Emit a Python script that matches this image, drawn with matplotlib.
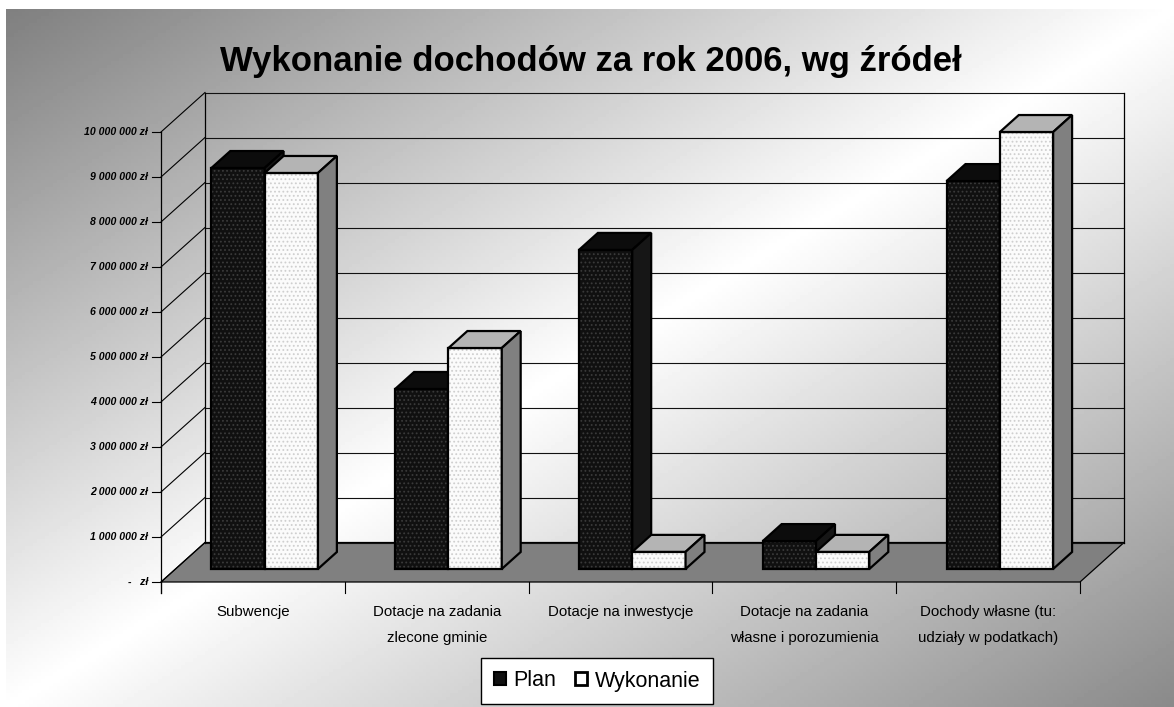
import matplotlib.pyplot as plt
import numpy as np
from matplotlib.patches import Polygon, Patch

plt.rcParams['font.family'] = ['Liberation Sans', 'DejaVu Sans']
plt.rcParams['hatch.linewidth'] = 0.8

# dane (mln zł)
kategorie = ['Subwencje', 'Dotacje na zadania\nzlecone gminie', 'Dotacje na inwestycje',
             'Dotacje na zadania\nwłasne i porozumienia', 'Dochody własne (tu:\nudziały w podatkach)']
plan = [8.91, 4.00, 7.09, 0.62, 8.62]
wykonanie = [8.80, 4.91, 0.38, 0.38, 9.71]
y_ticks = [0, 1, 2, 3, 4, 5, 6, 7, 8, 9, 10]
y_labels = ['-   zł'] + [f'{v} 000 000 zł' for v in y_ticks[1:]]

W, H = 1174, 707
fig = plt.figure(figsize=(W / 100, H / 100), dpi=100)

# tło z gradientem
bg = fig.add_axes([6 / W, 0, 1 - 6 / W, 1 - 9 / H])
xx, yy = np.meshgrid(np.linspace(0, 1, 300), np.linspace(0, 1, 200))
t = xx + yy - 1
g = 1 - 0.5 * np.abs(t)
g = np.where(t > 0, 1 - 0.46 * t, g)
bg.imshow(g, cmap='gray', vmin=0, vmax=1, aspect='auto', extent=[0, 1, 1, 0])
bg.axis('off')

# główny układ (przednia oś)
x0, x1, yb, yt = 161, 1080, 582, 132
ax = fig.add_axes([x0 / W, (H - yb) / H, (x1 - x0) / W, (yb - yt) / H])
ax.set_xlim(0, 5)
ax.set_ylim(0, 10)
ax.axis('off')

DX = 44 / ((x1 - x0) / 5)
DY = 39.5 / 45
n = len(kategorie)

# ściana tylna i boczna
for v, lab in zip(y_ticks, y_labels):
    ax.plot([0, DX], [v, v + DY], color='black', lw=0.8, clip_on=False)
    ax.plot([DX, n + DX], [v + DY, v + DY], color='#111111', lw=0.8, clip_on=False)
    ax.plot([-0.05, 0], [v, v], color='black', lw=0.8, clip_on=False)
    ax.text(-0.07, v, lab, ha='right', va='center', fontsize=7.6,
            fontweight='bold', fontstyle='italic')
ax.plot([DX, DX], [DY, 10 + DY], color='black', lw=0.9, clip_on=False)
ax.plot([n + DX, n + DX], [DY, 10 + DY], color='black', lw=0.9, clip_on=False)
ax.plot([0, 0], [-0.25, 10], color='black', lw=0.9, clip_on=False)

# podłoga
ax.add_patch(Polygon([(0, 0), (DX, DY), (n + DX, DY), (n, 0)], closed=True,
                     facecolor='#808080', edgecolor='black', lw=0.9, clip_on=False))
for i in range(n + 1):
    ax.plot([i, i], [0, -0.25], color='black', lw=0.8, clip_on=False)

# słupki 3D
d0, d1 = 0.33, 0.76
bw = 0.29
left = 0.195
# (przód, góra, bok, kolor kropek)
styles = [('#101010', '#0c0c0c', '#161616', '#3a3a3a'),
          ('#fbfbfb', '#b4b4b4', '#808080', '#cfcfcf')]


def bar3d(xl, v, front, top, side, dots):
    ox, oy = d0 * DX, d0 * DY
    ddx, ddy = (d1 - d0) * DX, (d1 - d0) * DY
    ax.bar(xl + ox, v, bw, bottom=oy, align='edge', color=front, lw=0,
           clip_on=False, zorder=3)
    ax.bar(xl + ox, v, bw, bottom=oy, align='edge', fill=False, hatch='....',
           edgecolor=dots, lw=0, clip_on=False, zorder=3)
    ax.bar(xl + ox, v, bw, bottom=oy, align='edge', fill=False, edgecolor='black',
           lw=1.6, clip_on=False, zorder=3)
    xr = xl + ox + bw
    ax.add_patch(Polygon([(xl + ox, oy + v), (xl + ox + ddx, oy + v + ddy),
                          (xr + ddx, oy + v + ddy), (xr, oy + v)], closed=True,
                         facecolor=top, edgecolor='black', lw=1.6, clip_on=False, zorder=3))
    ax.add_patch(Polygon([(xr, oy), (xr + ddx, oy + ddy), (xr + ddx, oy + v + ddy),
                          (xr, oy + v)], closed=True,
                         facecolor=side, edgecolor='black', lw=1.6, clip_on=False, zorder=3))


for i in range(n):
    bar3d(i + left, plan[i], *styles[0])
    bar3d(i + left + bw, wykonanie[i], *styles[1])

# etykiety kategorii
for i, k in enumerate(kategorie):
    ax.text(i + 0.5, -0.52, k, ha='center', va='top', fontsize=10.8, linespacing=2.05)

fig.text(591 / W, 1 - 61 / H, 'Wykonanie dochodów za rok 2006, wg źródeł', ha='center',
         va='center', fontsize=25, fontweight='bold')

handles = [Patch(facecolor='#111111', edgecolor='black', lw=1.5),
           Patch(facecolor='white', edgecolor='black', lw=2)]
leg = fig.legend(handles, ['Plan', 'Wykonanie'], loc='center', bbox_to_anchor=(597 / W, 1 - 681 / H),
                 ncol=2, fontsize=15.5, handlelength=0.55, handleheight=0.55, handletextpad=0.35,
                 columnspacing=0.9, fancybox=False, framealpha=1, edgecolor='black',
                 borderpad=0.6)
leg.get_frame().set_linewidth(1.0)

fig.savefig('out.png', dpi=100)
